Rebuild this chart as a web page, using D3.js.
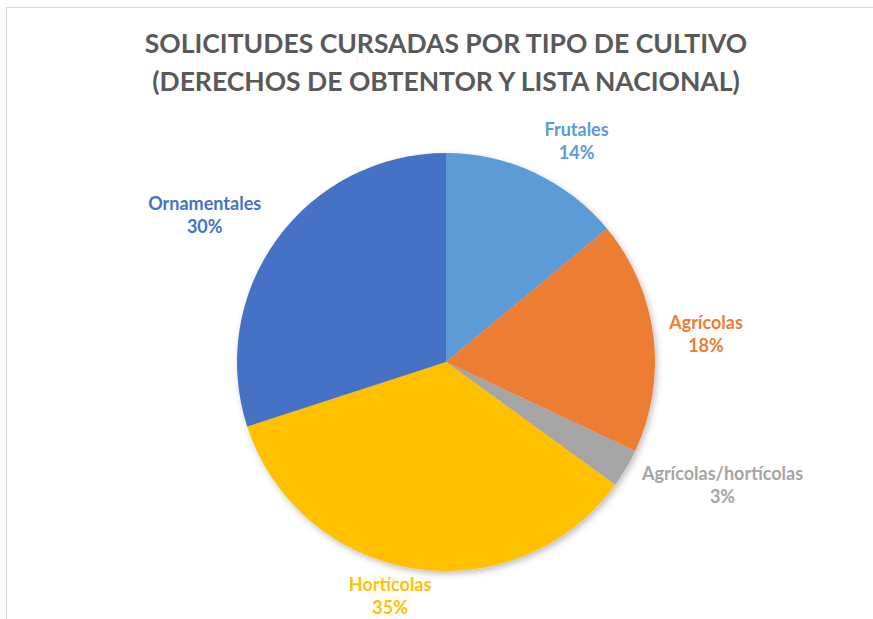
<!DOCTYPE html>
<html>
<head>
  <meta charset="utf-8">
  <title>Solicitudes cursadas por tipo de cultivo</title>
  <script src="https://cdn.jsdelivr.net/npm/d3@7"></script>
  <style>
    body { margin: 0; background: #fff; }
    text { font-family: Lato, "Open Sans", sans-serif; font-weight: bold; }
  </style>
</head>
<body>
  <svg width="873" height="619" id="mainsvg"></svg>
  <script>
    // data
    const categories = ['Frutales', 'Agrícolas', 'Agrícolas/hortícolas', 'Hortícolas', 'Ornamentales'];
    const shares = [14, 18, 3, 35, 30];
    const colors = ['#5b9bd5', '#ed7d31', '#a5a5a5', '#ffc000', '#4472c4'];
    const titleLines = ['SOLICITUDES CURSADAS POR TIPO DE CULTIVO', '(DERECHOS DE OBTENTOR Y LISTA NACIONAL)'];

    const svg = d3.select('#mainsvg');
    const cx = 446, cy = 362, radius = 209;

    // chart frame (only top and left edges show in the crop)
    svg.append('rect')
      .attr('x', 6.5).attr('y', 7.5)
      .attr('width', 900).attr('height', 700)
      .attr('fill', 'none')
      .attr('stroke', '#d9d9d9');

    // title
    svg.selectAll('.title')
      .data(titleLines)
      .enter()
      .append('text')
      .attr('class', 'title')
      .attr('x', cx)
      .attr('y', (d, i) => 53 + i * 38)
      .attr('text-anchor', 'middle')
      .attr('fill', '#595959')
      .style('font-size', '26.5px')
      .text(d => d);

    // soft shadow under the pie
    const defs = svg.append('defs');
    const f = defs.append('filter').attr('id', 'shadow')
      .attr('x', '-20%').attr('y', '-20%').attr('width', '140%').attr('height', '140%');
    f.append('feDropShadow')
      .attr('dx', 2).attr('dy', 3).attr('stdDeviation', 3)
      .attr('flood-color', '#000').attr('flood-opacity', 0.25);

    const data = categories.map((c, i) => ({ name: c, value: shares[i], color: colors[i] }));

    const pie = d3.pie().value(d => d.value).sort(null);
    const arc = d3.arc().innerRadius(0).outerRadius(radius);
    const labelArc = d3.arc().innerRadius(255).outerRadius(255);

    const g = svg.append('g')
      .attr('transform', `translate(${cx}, ${cy})`);

    const arcs = pie(data);

    g.append('g').attr('filter', 'url(#shadow)')
      .selectAll('path')
      .data(arcs)
      .enter()
      .append('path')
      .attr('d', arc)
      .attr('fill', d => d.data.color);

    // Excel "best fit" placement, approximated by nudging the outer centroid
    const nudge = {
      'Frutales': [22, 10],
      'Agrícolas': [7, 4],
      'Agrícolas/hortícolas': [57, -7],
      'Hortícolas': [-16, -18],
      'Ornamentales': [-35, 3]
    };

    const labels = g.selectAll('.label')
      .data(arcs)
      .enter()
      .append('g')
      .attr('class', 'label')
      .attr('transform', d => {
        const [x, y] = labelArc.centroid(d);
        const n = nudge[d.data.name];
        return `translate(${x + n[0]}, ${y + n[1]})`;
      });

    labels.append('text')
      .attr('y', -11.5)
      .attr('dy', '0.35em')
      .attr('text-anchor', 'middle')
      .attr('fill', d => d.data.color)
      .style('font-size', '18px')
      .text(d => d.data.name);

    labels.append('text')
      .attr('y', 11.5)
      .attr('dy', '0.35em')
      .attr('text-anchor', 'middle')
      .attr('fill', d => d.data.color)
      .style('font-size', '18px')
      .text(d => d.data.value + '%');
  </script>
</body>
</html>
